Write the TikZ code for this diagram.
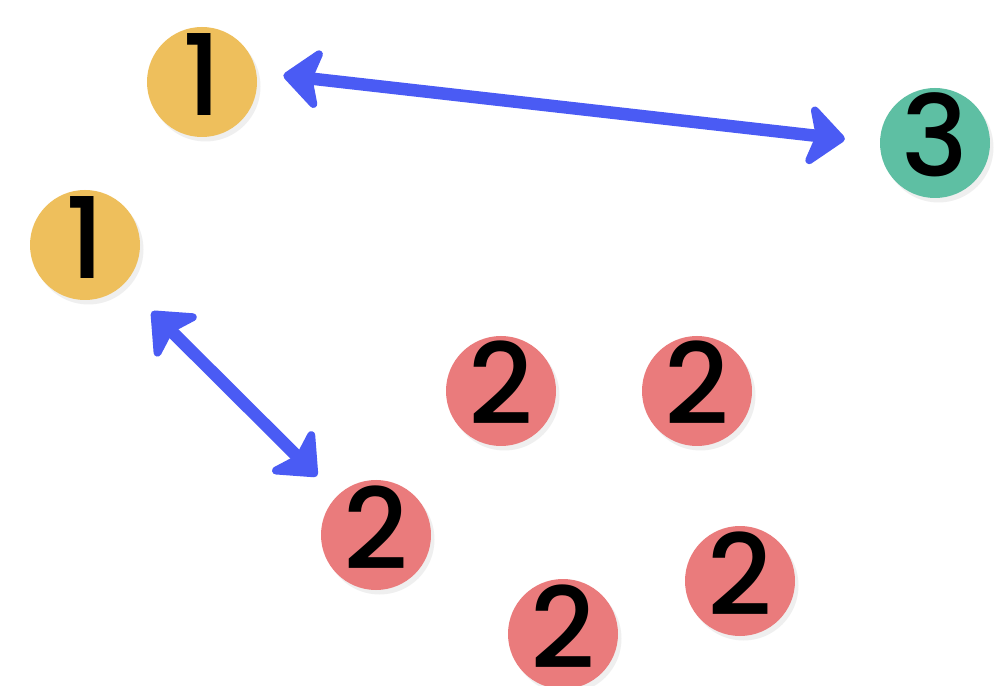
\documentclass[tikz,border=0pt]{standalone}
\usepackage{fontspec}
\setmainfont{Poppins}
\newfontfamily\digitfont{Poppins}[UprightFont={* Medium}]
\usepackage{tikz}
\usetikzlibrary{arrows.meta,positioning,calc,shadows}
\usepackage{xcolor}
\definecolor{fyellow}{HTML}{EEBF5C}
\definecolor{fgreen}{HTML}{5EBFA3}
\definecolor{fred}{HTML}{EA7B7C}
\definecolor{fblue}{HTML}{4A5BF4}
\tikzset{
  ball/.style     = {circle, inner sep=0pt, minimum size=2.2cm,
                     text height=1.36cm, text depth=0cm,
                     font=\digitfont\fontsize{64}{64}\selectfont,
                     drop shadow={shadow xshift=0.07cm, shadow yshift=-0.09cm,
                                  opacity=0.12}},
  ballone/.style  = {ball, fill=fyellow},
  balltwo/.style  = {ball, fill=fred},
  ballthree/.style= {ball, fill=fgreen},
  link/.style     = {{Stealth[length=0.85cm,width=1.45cm,inset=0.22cm,round]}-{Stealth[length=0.85cm,width=1.45cm,inset=0.22cm,round]},
                     line width=0.25cm, draw=fblue},
}

\begin{document}
\begin{tikzpicture}[x=1cm,y=1cm]
\useasboundingbox[fill=white] (0,0) rectangle (20,-13.72);
\node[ballone]   (oneA)   at (4.04,-1.64)  {1};
\node[ballthree] (three)  at (18.70,-2.86) {3};
\node[ballone]   (oneB)   at (1.70,-4.90)  {1};
\node[balltwo]   (twoA)   at (10.02,-7.82) {2};
\node[balltwo]   (twoB)   at (13.94,-7.82) {2};
\node[balltwo]   (twoC)   at (7.52,-10.70) {2};
\node[balltwo]   (twoD)   at (14.80,-11.62) {2};
\node[balltwo]   (twoE)   at (11.26,-12.68) {2};
\draw[link, shorten <=0.54cm, shorten >=0.7cm] (oneA.10) -- (three.west);
\draw[link, shorten <=0.78cm, shorten >=0.56cm] (oneB.south east) -- (twoC.north west);
\end{tikzpicture}
\end{document}
